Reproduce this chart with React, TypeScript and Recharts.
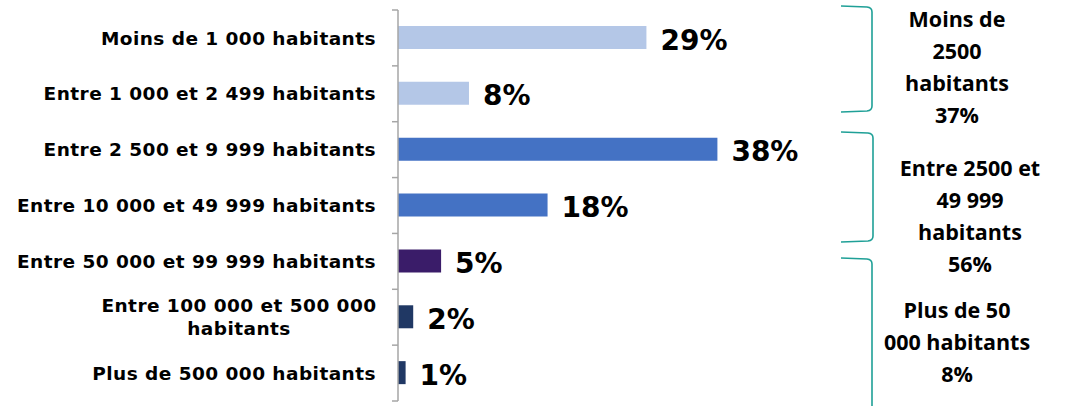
import React from 'react';
import { BarChart, Bar, XAxis, YAxis, Cell, LabelList } from 'recharts';

const categories = [
  'Moins de 1 000 habitants',
  'Entre 1 000 et 2 499 habitants',
  'Entre 2 500 et 9 999 habitants',
  'Entre 10 000 et 49 999 habitants',
  'Entre 50 000 et 99 999 habitants',
  'Entre 100 000 et 500 000 habitants',
  'Plus de 500 000 habitants',
];
const values = [29.4, 8.4, 37.8, 17.7, 5.1, 1.8, 0.9];
const valueLabels = ['29%', '8%', '38%', '18%', '5%', '2%', '1%'];
const barColors = ['#B4C7E7', '#B4C7E7', '#4472C4', '#4472C4', '#3A1C69', '#203864', '#203864'];

const groupLines = [
  ['Moins de', '2500', 'habitants', '37%'],
  ['Entre 2500 et', '49 999', 'habitants', '56%'],
  ['Plus de 50', '000 habitants', '8%'],
];

const data = categories.map((c, i) => ({ name: c, value: values[i], label: valueLabels[i] }));

const W = 1073;
const H = 406;
const MARGIN = { top: 10, right: 337, bottom: 5, left: 0 };
const BAND = (H - MARGIN.top - MARGIN.bottom) / categories.length;
const LABEL_FONT = '"DejaVu Sans", Verdana, sans-serif';

const CategoryTick = (props: any) => {
  const { x, y, payload, index } = props;
  const text: string = payload.value;
  const axisX = x + 20;
  const tickTop = y - BAND / 2;
  const lines =
    text === 'Entre 100 000 et 500 000 habitants'
      ? ['Entre 100 000 et 500 000', 'habitants']
      : [text];
  const style = {
    fontFamily: LABEL_FONT,
    fontWeight: 700,
    fontSize: 18.5,
    letterSpacing: 0.45,
    fill: '#000',
  } as any;
  return (
    <g>
      <line x1={axisX - 6} x2={axisX} y1={tickTop} y2={tickTop} stroke="#A6A6A6" strokeWidth={1.5} />
      {index === categories.length - 1 && (
        <line x1={axisX - 6} x2={axisX} y1={y + BAND / 2} y2={y + BAND / 2} stroke="#A6A6A6" strokeWidth={1.5} />
      )}
      {lines.length === 1 ? (
        <text x={x - 2} y={y} dy="0.36em" textAnchor="end" style={style}>
          {lines[0]}
        </text>
      ) : (
        <text textAnchor="middle" style={style}>
          <tspan x={x - 2 - 137} y={y - 11.5} dy="0.36em">{lines[0]}</tspan>
          <tspan x={x - 2 - 137} y={y + 11.5} dy="0.36em">{lines[1]}</tspan>
        </text>
      )}
    </g>
  );
};

const ValueLabel = (props: any) => {
  const { x, y, width, height, value } = props;
  return (
    <text
      x={x + width + 14}
      y={y + height / 2 + 2}
      dy="0.36em"
      textAnchor="start"
      style={{ fontFamily: LABEL_FONT, fontWeight: 700, fontSize: 28, fill: '#000' }}
    >
      {value}
    </text>
  );
};

const Brace = ({ top, bottom, left, right }: { top: number; bottom: number; left: number; right: number }) => (
  <path
    d={`M ${left} ${top} L ${right - 5} ${top + 1} Q ${right} ${top + 1.5} ${right} ${top + 6} L ${right} ${bottom - 6} Q ${right} ${bottom - 1.5} ${right - 5} ${bottom - 1} L ${left} ${bottom}`}
    fill="none"
    stroke="#1FA097"
    strokeWidth={1.6}
  />
);

const GroupText = ({ lines, cx, firstBaseline }: { lines: string[]; cx: number; firstBaseline: number }) => (
  <text textAnchor="middle" style={{ fontFamily: '"Open Sans", "Noto Sans", sans-serif', fontWeight: 700, fontSize: 21.5, fill: '#000' }}>
    {lines.map((l, i) => (
      <tspan key={i} x={cx} y={firstBaseline + i * 32}>
        {l}
      </tspan>
    ))}
  </text>
);

export default function App() {
  return (
    <div style={{ position: 'absolute', left: 0, top: 0, width: W, height: H, background: '#fff' }}>
      <BarChart width={W} height={H} data={data} layout="vertical" margin={MARGIN}>
        <XAxis type="number" domain={[0, 40]} hide />
        <YAxis
          type="category"
          dataKey="name"
          width={398}
          axisLine={{ stroke: '#A6A6A6', strokeWidth: 1.5 }}
          tickLine={false}
          tickMargin={0}
          tickSize={20}
          tick={<CategoryTick />}
          interval={0}
        />
        <Bar dataKey="value" barSize={23} isAnimationActive={false}>
          {data.map((d, i) => (
            <Cell key={i} fill={barColors[i]} />
          ))}
          <LabelList dataKey="label" content={<ValueLabel />} />
        </Bar>
      </BarChart>
      <svg width={W} height={H} style={{ position: 'absolute', left: 0, top: 0, pointerEvents: 'none' }}>
        <Brace top={6} bottom={112} left={841} right={872} />
        <Brace top={132} bottom={242} left={841} right={873} />
        <Brace top={258} bottom={420} left={841} right={872} />
        <GroupText lines={groupLines[0]} cx={957} firstBaseline={27} />
        <GroupText lines={groupLines[1]} cx={970} firstBaseline={176} />
        <GroupText lines={groupLines[2]} cx={957} firstBaseline={318} />
      </svg>
    </div>
  );
}
